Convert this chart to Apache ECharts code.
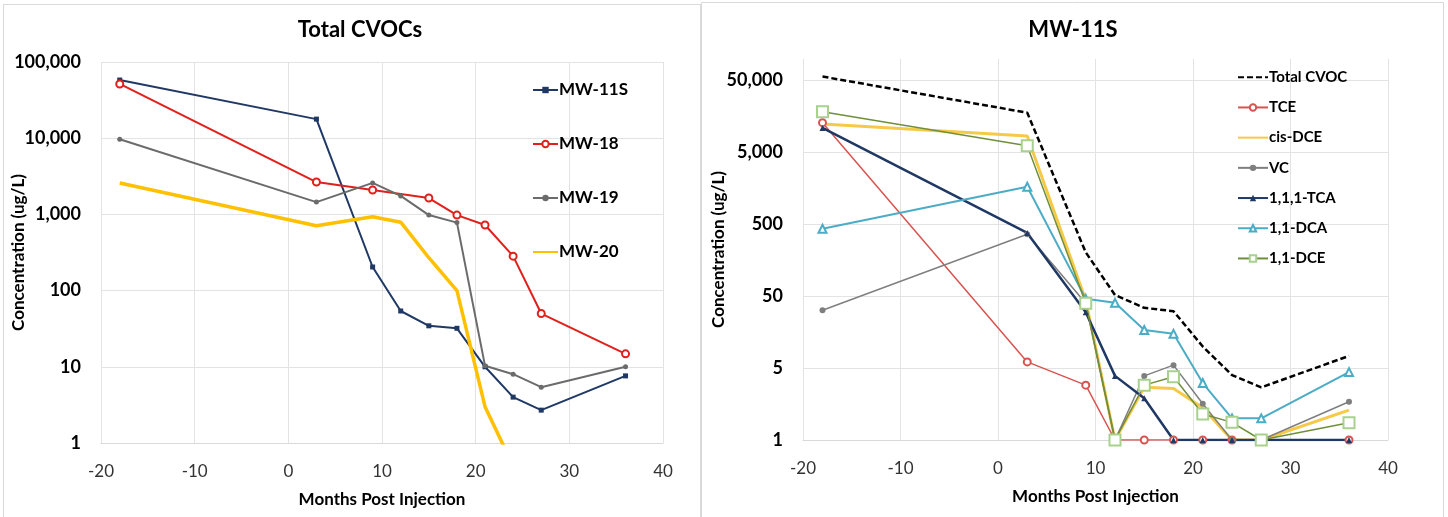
<!DOCTYPE html>
<html>
<head>
<meta charset="utf-8">
<title>CVOC charts</title>
<script src="https://cdn.jsdelivr.net/npm/echarts@6/dist/echarts.min.js"></script>
<style>
  html, body { margin: 0; padding: 0; background: #fff; }
  #chart { width: 1448px; height: 517px; }
</style>
</head>
<body>
<div id="chart"></div>
<script>
// ---- data ----
// left: Total CVOCs per well
var mw11sMonths = [-18, 3, 9, 12, 15, 18, 21, 24, 27, 36];
var mw11sValues = [58000, 17800, 204, 54, 34.5, 32, 10, 4, 2.7, 7.6];
var mw18Months = [-18, 3, 9, 15, 18, 21, 24, 27, 36];
var mw18Values = [51500, 2660, 2090, 1640, 980, 725, 283, 50, 14.8];
var mw19Months = [-18, 3, 9, 12, 15, 18, 21, 24, 27, 36];
var mw19Values = [9700, 1450, 2590, 1750, 980, 780, 10.3, 8, 5.4, 10];
var mw20Months = [-18, 3, 9, 12, 15, 18, 21, 24];
var mw20Values = [2580, 710, 930, 790, 270, 100, 3, 0.5];

// right: MW-11S by compound
var months = [-18, 3, 9, 12, 15, 18, 21, 24, 27, 36];
var totalCvoc = [57000, 17900, 204, 52, 34.5, 31, 10, 4, 2.7, 7.4];
var tce = [13000, 6.1, 2.9, 0.5, 0.5, 0.5, 0.5, 0.5, 0.5, 0.5];
var cisDce = [12500, 8500, 44, 0.5, 2.7, 2.6, 1.4, 0.5, 0.5, 1.3];
var vc = [32, 365, 40, 0.5, 3.9, 5.5, 1.6, 0.5, 0.5, 1.7];
var tca = [11000, 380, 30, 3.9, 1.9, 0.5, 0.5, 0.5, 0.5, 0.5];
var dca = [435, 1670, 46, 40.5, 17, 15, 3.1, 1.0, 1.0, 4.4];
var dce = [18500, 6200, 40, 0.5, 2.9, 3.8, 1.15, 0.88, 0.5, 0.87];

var xTicks = [-20, 40, 10];               // min, max, step
var rightYTicks = [0.5, 5, 50, 500, 5000, 50000];

var leftNames = ['MW-11S', 'MW-18', 'MW-19', 'MW-20'];
var rightNames = ['Total CVOC', 'TCE', 'cis-DCE', 'VC', '1,1,1-TCA', '1,1-DCA', '1,1-DCE'];
var noMarker = ['MW-20', 'Total CVOC', 'cis-DCE'];

var FONT = 'Lato, "Noto Sans", sans-serif';

function pairs(xs, ys) {
  return xs.map(function (m, i) { return [m, ys[i]]; });
}

function fmt(v) {
  // excel shows 0.5 with #,##0 as "1"
  return Math.round(v).toLocaleString('en-US');
}

// legend entries, hide the dot for series drawn without markers
function legendData(names) {
  return names.map(function (n) {
    return noMarker.indexOf(n) >= 0 ? { name: n, itemStyle: { opacity: 0 } } : { name: n };
  });
}

function xAxisOpt(idx) {
  return {
    type: 'value', gridIndex: idx,
    min: xTicks[0], max: xTicks[1], interval: xTicks[2],
    name: 'Months Post Injection', nameLocation: 'middle', nameGap: 48,
    nameTextStyle: { fontFamily: FONT, fontSize: 17, fontWeight: 'bold', color: '#000' },
    axisLine: { lineStyle: { color: '#d9d9d9' } },
    axisTick: { show: false },
    axisLabel: { fontFamily: FONT, fontSize: 17, color: '#333', margin: 20 },
    splitLine: { lineStyle: { color: '#e3e3e3' } }
  };
}

var yName = {
  name: 'Concentration (ug/L)', nameLocation: 'middle', nameMoveOverlap: false,
  nameTextStyle: { fontFamily: FONT, fontSize: 17, fontWeight: 'bold', color: '#000' }
};

function line(name, xi, xs, ys, color, width, symbol, size, extra) {
  var s = {
    name: name, type: 'line', xAxisIndex: xi, yAxisIndex: xi,
    data: pairs(xs, ys),
    symbol: symbol, symbolSize: size, showSymbol: symbol !== 'none',
    lineStyle: { color: color, width: width },
    itemStyle: { color: color },
    emphasis: { disabled: true },
    animation: false
  };
  if (extra) Object.assign(s, extra);
  return s;
}

var chart = echarts.init(document.getElementById('chart'));

chart.setOption({
  backgroundColor: '#fff',
  animation: false,
  graphic: [
    { type: 'rect', shape: { x: 3.5, y: 4.5, width: 697, height: 530 },
      style: { fill: 'none', stroke: '#d9d9d9', lineWidth: 1 }, silent: true },
    { type: 'rect', shape: { x: 701.5, y: 2.5, width: 742, height: 530 },
      style: { fill: 'none', stroke: '#d9d9d9', lineWidth: 1 }, silent: true }
  ],
  title: [
    { text: 'Total CVOCs', left: 355, top: 14, textAlign: 'center',
      textStyle: { fontFamily: FONT, fontSize: 22, fontWeight: 'bold', color: '#000' } },
    { text: 'MW-11S', left: 1068, top: 14, textAlign: 'center',
      textStyle: { fontFamily: FONT, fontSize: 22, fontWeight: 'bold', color: '#000' } }
  ],
  legend: [
    { orient: 'vertical', left: 527, top: 75, itemGap: 34, itemWidth: 25, itemHeight: 8,
      data: legendData(leftNames),
      textStyle: { fontFamily: FONT, fontSize: 17, fontWeight: 'bold', color: '#000', lineHeight: 20,
        padding: [0, 0, 0, -4] } },
    { orient: 'vertical', left: 1232, top: 63, itemGap: 11.7, itemWidth: 30, itemHeight: 8,
      data: legendData(rightNames),
      textStyle: { fontFamily: FONT, fontSize: 15, fontWeight: 'bold', color: '#000', lineHeight: 18.5,
        padding: [0, 0, 0, -4] } }
  ],
  grid: [
    { left: 101, top: 62, width: 562, height: 381, outerBoundsMode: 'none' },
    { left: 803, top: 59, width: 585, height: 381, outerBoundsMode: 'none' }
  ],
  xAxis: [xAxisOpt(0), xAxisOpt(1)],
  yAxis: [
    Object.assign({
      type: 'log', logBase: 10, gridIndex: 0, min: 1, max: 100000, nameGap: 74,
      axisLine: { show: false }, axisTick: { show: false },
      axisLabel: { fontFamily: FONT, fontSize: 18, fontWeight: 'bold', color: '#000', margin: 20, formatter: fmt },
      splitLine: { lineStyle: { color: '#e3e3e3' } }
    }, yName),
    Object.assign({
      type: 'log', logBase: 10, gridIndex: 1, min: 0.5, max: 100000, nameGap: 76,
      axisLine: { show: false },
      axisTick: { show: false, customValues: rightYTicks },
      axisLabel: { fontFamily: FONT, fontSize: 18, fontWeight: 'bold', color: '#000', margin: 20,
        formatter: fmt, customValues: rightYTicks },
      splitLine: { lineStyle: { color: '#e3e3e3' } }
    }, yName)
  ],
  series: [
    line('MW-11S', 0, mw11sMonths, mw11sValues, '#1f3864', 2, 'rect', 5),
    line('MW-18', 0, mw18Months, mw18Values, '#e0201b', 2, 'emptyCircle', 7),
    line('MW-19', 0, mw19Months, mw19Values, '#6b6b6b', 2, 'circle', 5),
    line('MW-20', 0, mw20Months, mw20Values, '#ffc000', 3.5, 'none', 0),

    line('Total CVOC', 1, months, totalCvoc, '#000', 2.5, 'none', 0,
      { lineStyle: { color: '#000', width: 2.5, type: [6, 3] } }),
    line('TCE', 1, months, tce, '#d9534f', 1.5, 'emptyCircle', 7),
    line('cis-DCE', 1, months, cisDce, '#f7c948', 3, 'none', 0),
    line('VC', 1, months, vc, '#7f7f7f', 1.5, 'circle', 6),
    line('1,1,1-TCA', 1, months, tca, '#1f3864', 2.5, 'triangle', 6),
    line('1,1-DCA', 1, months, dca, '#4bacc6', 2, 'emptyTriangle', 8),
    line('1,1-DCE', 1, months, dce, '#6f8f3a', 1.5, 'emptyRect', 11,
      { itemStyle: { color: '#a9d18e' } })
  ]
});
</script>
</body>
</html>
